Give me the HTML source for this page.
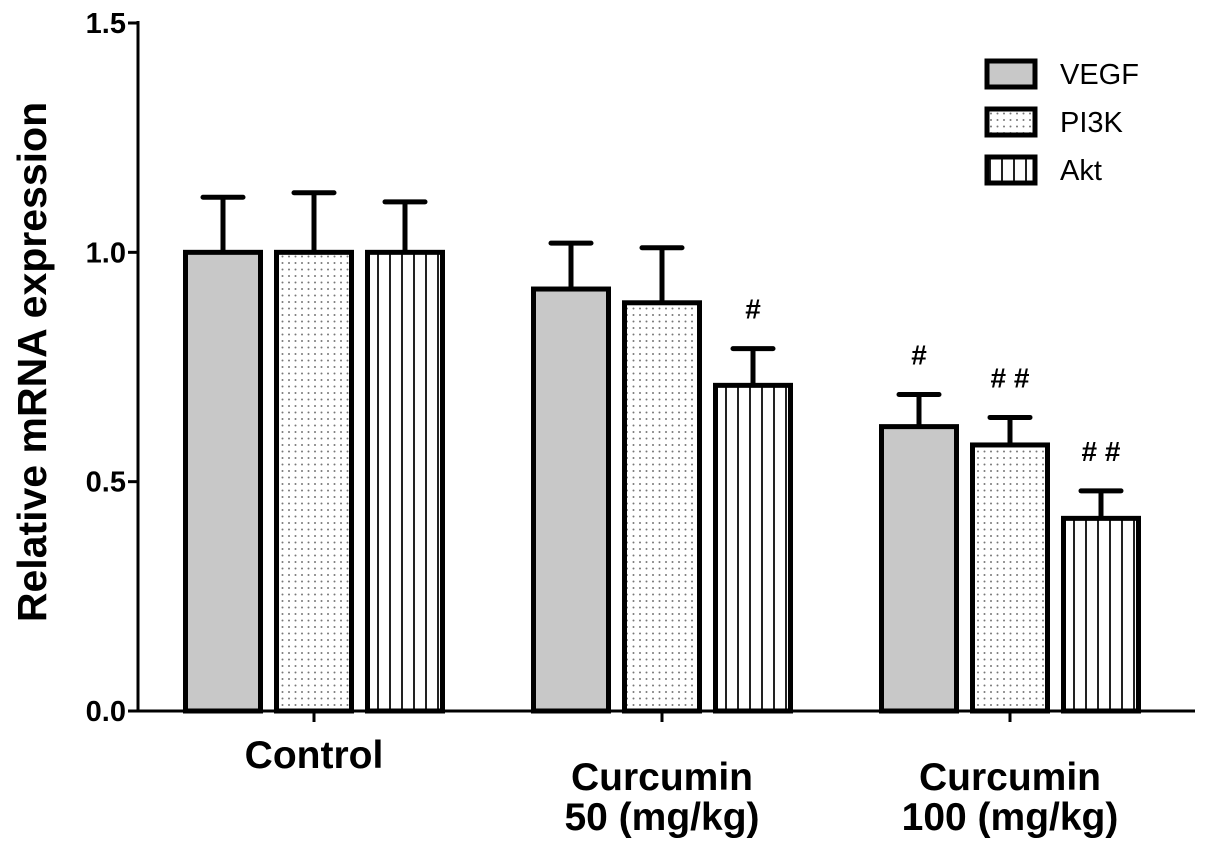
<!DOCTYPE html>
<html><head><meta charset="utf-8"><style>
html,body{margin:0;padding:0;background:#fff;}
svg{display:block;font-family:"Liberation Sans",Arial,sans-serif;}
</style></head><body>
<svg id="chart" width="1205" height="843" viewBox="0 0 1205 843">
<defs>
<pattern id="dots" width="6.5" height="6.5" patternUnits="userSpaceOnUse"><rect width="6.5" height="6.5" fill="#fff"/><circle cx="3" cy="3" r="1" fill="#777"/></pattern>
<pattern id="stripes" width="12" height="10" patternUnits="userSpaceOnUse"><rect width="12" height="10" fill="#fff"/><rect x="5" y="0" width="2" height="10" fill="#222"/></pattern>
</defs>
<g id="plot"></g>
</svg>
<script>
const categories = [["Control"], ["Curcumin", "50 (mg/kg)"], ["Curcumin", "100 (mg/kg)"]];
const seriesNames = ["VEGF", "PI3K", "Akt"];
const vegf = [1.0, 0.92, 0.62];
const vegfErr = [0.12, 0.10, 0.07];
const pi3k = [1.0, 0.89, 0.58];
const pi3kErr = [0.13, 0.12, 0.06];
const akt = [1.0, 0.71, 0.42];
const aktErr = [0.11, 0.08, 0.06];
const marks = [["", "", ""], ["", "", "#"], ["#", "# #", "# #"]];
const yTicks = [0.0, 0.5, 1.0, 1.5];

const NS = "http://www.w3.org/2000/svg";
const g = document.getElementById("plot");
const x0 = 138, x1 = 1195, y0 = 711, yTop = 23, yMax = 1.5;
const band = 348;
const y = v => y0 - v / yMax * (y0 - yTop);
const xc = i => x0 + 2 + band * (i + 0.5);
function el(tag, attrs, parent) {
  const e = document.createElementNS(NS, tag);
  for (const k in attrs) e.setAttribute(k, attrs[k]);
  (parent || g).appendChild(e);
  return e;
}
const fills = ["#c8c8c8", "url(#dots)", "url(#stripes)"];
const vals = [vegf, pi3k, akt];
const errs = [vegfErr, pi3kErr, aktErr];
const bw = 80, gap = 11;
categories.forEach((c, i) => {
  const start = xc(i) - (3 * bw + 2 * gap) / 2;
  for (let s = 0; s < 3; s++) {
    const bx = start + s * (bw + gap);
    const v = vals[s][i], top = y(v), et = y(v + errs[s][i]);
    const cx = bx + bw / 2;
    const eb = el("line", {x1: cx, x2: cx, y1: top, y2: et, stroke: "#000", "stroke-width": 5});
    
    
    const cap = el("line", {x1: cx - 20, x2: cx + 20, y1: et, y2: et, stroke: "#000", "stroke-width": 5, "stroke-linecap": "round"});
    
    
    const r = el("rect", {x: bx + 2.5, y: top, width: bw - 5, height: y0 - top, fill: fills[s], stroke: "#000", "stroke-width": 5});
    
    
    if (marks[i][s]) {
      const t = el("text", {x: cx, y: et - 30, "text-anchor": "middle", "font-size": 28, "font-weight": "bold"});
      t.textContent = marks[i][s];
      
      
    }
  }
  const tk = el("line", {x1: xc(i), x2: xc(i), y1: y0, y2: y0 + 11, stroke: "#000", "stroke-width": 3});
  
  
  c.forEach((line, j) => {
    const t = el("text", {x: xc(i), y: (c.length === 1 ? 768 : 790) + j * 40, "text-anchor": "middle", "font-size": 39, "font-weight": "bold"});
    t.textContent = line;
    
    
  });
});
const ya = el("line", {x1: x0, x2: x0, y1: yTop - 2, y2: y0 + 1.5, stroke: "#000", "stroke-width": 3});


const xa = el("line", {x1: x0 - 1.5, x2: x1, y1: y0, y2: y0, stroke: "#000", "stroke-width": 3});


yTicks.forEach(v => {
  const l = el("line", {x1: x0 - 10, x2: x0, y1: y(v), y2: y(v), stroke: "#000", "stroke-width": 3});
  
  
  const t = el("text", {x: x0 - 12, y: y(v) + 10, "text-anchor": "end", "font-size": 29, "font-weight": "bold"});
  t.textContent = v.toFixed(1);
  
  
});
const yt = el("text", {x: 0, y: 0, transform: "translate(46,362) rotate(-90)", "text-anchor": "middle", "font-size": 41, "font-weight": "bold"});
yt.textContent = "Relative mRNA expression";


seriesNames.forEach((n, s) => {
  const ly = 61 + s * 48;
  const r = el("rect", {x: 987, y: ly, width: 48, height: 26, fill: fills[s], stroke: "#000", "stroke-width": 5});
  
  
  const t = el("text", {x: 1060, y: ly + 23, "font-size": 29});
  t.textContent = n;
  
  
});
</script>
</body></html>
